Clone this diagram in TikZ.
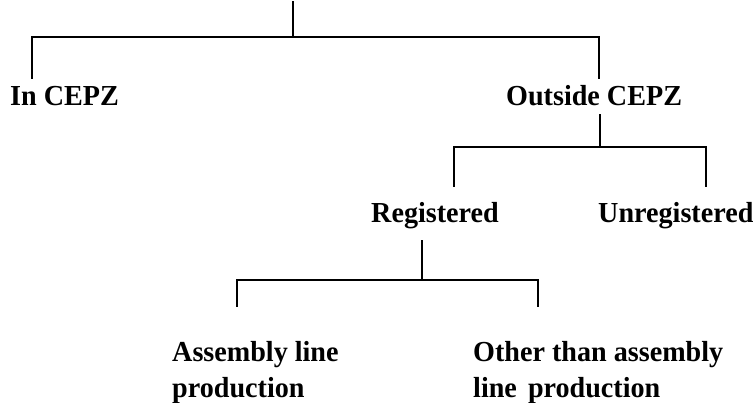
\documentclass[tikz,border=0pt]{standalone}
\usepackage{fontspec}
\usepackage{tikz}
\usetikzlibrary{positioning,calc}
\newfontfamily\treefont{Liberation Serif}[FakeStretch=0.97]
\tikzset{
    treetext/.style={font=\treefont\bfseries\fontsize{29}{36}\selectfont, inner sep=0pt, align=left},
    treeline/.style={line width=2pt, line cap=rect}
}

\begin{document}
\begin{tikzpicture}[x=1pt, y=-1pt]
    \useasboundingbox (0,0) rectangle (753,403);

    % Root stem and first bar
    \coordinate (root) at (293,2);
    \coordinate (rootjoin) at (293,37);
    \coordinate (barAl) at (32,37);
    \coordinate (barAr) at (599,37);
    \coordinate (dropAl) at (32,78);
    \coordinate (dropAr) at (599,78);
    \draw[treeline] (root) -- (rootjoin);
    \draw[treeline] (dropAl) -- (barAl) -- (barAr) -- (dropAr);

    % Location
    \node[treetext, anchor=base west] (incepz) at (10,106) {In CEPZ};
    \node[treetext, anchor=base west] (outcepz) at (506,106) {Outside CEPZ};

    % Outside CEPZ split
    \coordinate (outstem) at (600,115);
    \coordinate (outjoin) at (600,147);
    \coordinate (barBl) at (454,147);
    \coordinate (barBr) at (706,147);
    \coordinate (dropBl) at (454,186);
    \coordinate (dropBr) at (706,186);
    \draw[treeline] (outstem) -- (outjoin);
    \draw[treeline] (dropBl) -- (barBl) -- (barBr) -- (dropBr);

    \node[treetext, anchor=base west] (reg) at (371,223) {Registered};
    \node[treetext, anchor=base west] (unreg) at (598,223) {Unregistered};

    % Registered split
    \coordinate (regstem) at (422,241);
    \coordinate (regjoin) at (422,280);
    \coordinate (barCl) at (237,280);
    \coordinate (barCr) at (538,280);
    \coordinate (dropCl) at (237,306);
    \coordinate (dropCr) at (538,306);
    \draw[treeline] (regstem) -- (regjoin);
    \draw[treeline] (dropCl) -- (barCl) -- (barCr) -- (dropCr);

    % two-line labels, anchored on the second line
    \node[treetext, anchor=base west] (assembly) at (172,398) {Assembly line\\production};
    \node[treetext, anchor=base west] (other) at (473,398) {Other than assembly\\line\hspace{4pt} production};
\end{tikzpicture}
\end{document}
